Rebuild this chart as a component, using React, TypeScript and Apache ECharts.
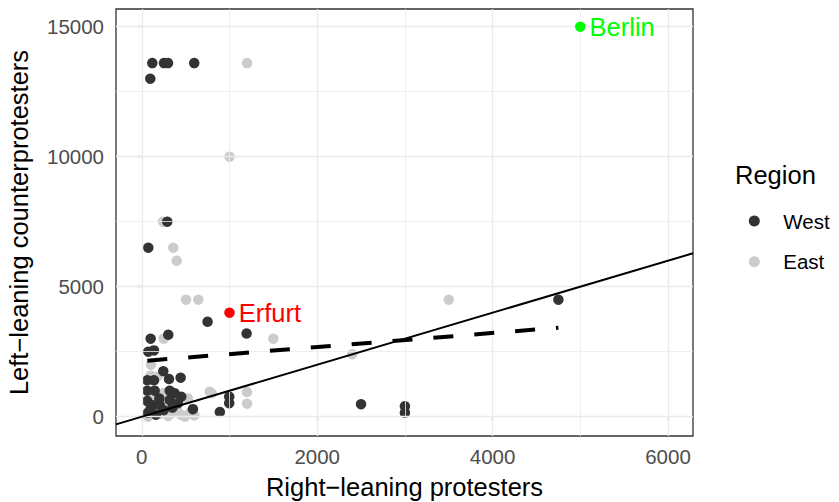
import React, { useEffect, useRef } from "react";
import * as echarts from "echarts";

// ---- data ----
const WEST: number[][] = [
  [120, 13600], [253, 13600], [299, 13600], [598, 13600], [97, 13000],
  [291, 7500], [74, 6500],
  [750, 3650], [101, 3000], [302, 3150], [74, 2500], [139, 2550],
  [245, 1750], [63, 1400], [139, 1400], [310, 1450], [443, 1500],
  [63, 1000], [147, 1000], [318, 1000], [375, 900], [450, 770],
  [63, 600], [116, 450], [204, 450], [318, 640], [412, 520], [583, 290], [890, 180],
  [997, 770], [997, 520], [1195, 3200],
  [2500, 480], [3000, 400], [3000, 150], [4750, 4500],
  [70, 150], [160, 80], [250, 250], [100, 300], [350, 350], [200, 700],
];
const EAST: number[][] = [
  [1200, 13600], [1000, 10000], [242, 7500], [359, 6500], [398, 6000], [504, 4500], [644, 4500],
  [1500, 3000], [2400, 2400], [3500, 4500], [250, 3000], [105, 2000], [101, 1580], [177, 1540],
  [242, 900], [797, 900], [526, 700], [774, 960], [1200, 950], [1200, 500], [492, 0], [71, 0],
  [336, 130], [450, 65], [550, 150], [400, 300], [280, 400], [200, 100], [300, 30], [130, 700],
  [600, 50], [150, 200],
];
const BERLIN: number[] = [5000, 15000];
const ERFURT: number[] = [1000, 4000];

// fitted regression (dashed) and identity reference line (solid)
const FIT_INTERCEPT = 2137;
const FIT_SLOPE = 0.2707;
const REF_INTERCEPT = 0;
const REF_SLOPE = 1;

const X_TICKS = [0, 2000, 4000, 6000];
const X_MINOR = [1000, 3000, 5000];
const Y_TICKS = [0, 5000, 10000, 15000];
const Y_MINOR = [2500, 7500, 12500];

const X_LIM = [-294, 6285];
const Y_LIM = [-742, 15681];

const FONT = "'Liberation Sans', Arial, Helvetica, sans-serif";

export default function App() {
  const ref = useRef<HTMLDivElement>(null);
  useEffect(() => {
    if (!ref.current) return;
    const chart = echarts.init(ref.current, undefined, { renderer: "svg" });

    const allX = [...WEST, ...EAST].map((d) => d[0]);
    const fx0 = Math.min(...allX);
    const fx1 = Math.max(...allX);
    const fitLine = [
      [fx0, FIT_INTERCEPT + FIT_SLOPE * fx0],
      [fx1, FIT_INTERCEPT + FIT_SLOPE * fx1],
    ];
    const refLine = [
      [X_LIM[0], REF_INTERCEPT + REF_SLOPE * X_LIM[0]],
      [X_LIM[1], REF_INTERCEPT + REF_SLOPE * X_LIM[1]],
    ];

    const gridColor = "#ebebeb";
    const gridMarks = [
      ...X_TICKS.map((v) => ({ xAxis: v, lineStyle: { width: 1.3, color: gridColor, type: "solid" } })),
      ...X_MINOR.map((v) => ({ xAxis: v, lineStyle: { width: 0.8, color: gridColor, type: "solid" } })),
      ...Y_TICKS.map((v) => ({ yAxis: v, lineStyle: { width: 1.3, color: gridColor, type: "solid" } })),
      ...Y_MINOR.map((v) => ({ yAxis: v, lineStyle: { width: 0.8, color: gridColor, type: "solid" } })),
    ];

    const tickLabel = { color: "#4d4d4d", fontSize: 20.5, fontFamily: FONT };

    chart.setOption({
      animation: false,
      backgroundColor: "#ffffff",
      textStyle: { fontFamily: FONT },
      grid: {
        left: 116,
        right: 146,
        top: 9,
        bottom: 66,
        containLabel: false,
        outerBoundsMode: "none",
        show: true,
        borderColor: "#333333",
        borderWidth: 1.3,
        backgroundColor: "#ffffff",
        z: 0,
      },
      xAxis: {
        type: "value",
        min: X_LIM[0],
        max: X_LIM[1],
        splitLine: { show: false },
        axisLine: { show: false },
        axisTick: { show: true, length: 4, customValues: X_TICKS, lineStyle: { color: "#333333", width: 1.2 } },
        axisLabel: { ...tickLabel, margin: 10, customValues: X_TICKS, formatter: (v: number) => String(v) },
        name: "Right\u2212leaning protesters",
        nameLocation: "middle",
        nameGap: 38,
        nameTextStyle: { color: "#000000", fontSize: 25.5, fontFamily: FONT },
      },
      yAxis: {
        type: "value",
        min: Y_LIM[0],
        max: Y_LIM[1],
        splitLine: { show: false },
        axisLine: { show: false },
        axisTick: { show: true, length: 4, customValues: Y_TICKS, lineStyle: { color: "#333333", width: 1.2 } },
        axisLabel: { ...tickLabel, margin: 12, customValues: Y_TICKS, formatter: (v: number) => String(v) },
        name: "Left\u2212leaning counterprotesters",
        nameLocation: "middle",
        nameGap: 84,
        nameRotate: 90,
        nameTextStyle: { color: "#000000", fontSize: 25.5, fontFamily: FONT },
      },
      legend: {
        orient: "vertical",
        left: 748.8,
        top: 210,
        padding: 0,
        itemWidth: 11,
        itemHeight: 11,
        itemGap: 18.7,
        icon: "circle",
        data: ["West", "East"],
        textStyle: { fontSize: 20.5, color: "#000000", fontFamily: FONT, lineHeight: 22, padding: [0, 0, 0, 18.5] },
      },
      graphic: [
        {
          type: "text",
          left: 735,
          top: 162,
          style: { text: "Region", fontSize: 25.5, fill: "#000000", fontFamily: FONT },
        },
      ],
      series: [
        {
          name: "grid",
          type: "line",
          data: [],
          silent: true,
          z: 1,
          markLine: {
            silent: true,
            symbol: ["none", "none"],
            label: { show: false },
            animation: false,
            data: gridMarks,
          },
        },
        {
          name: "East",
          type: "scatter",
          data: EAST,
          symbolSize: 10.5,
          itemStyle: { color: "#cccccc", opacity: 1 },
          z: 3,
        },
        {
          name: "West",
          type: "scatter",
          data: WEST,
          symbolSize: 10.5,
          itemStyle: { color: "#333333", opacity: 1 },
          z: 4,
        },
        {
          name: "Berlin",
          type: "scatter",
          data: [BERLIN],
          symbolSize: 10.5,
          itemStyle: { color: "#00ff00", opacity: 1 },
          label: { show: true, position: "right", distance: 4, formatter: "Berlin", color: "#00ff00", fontSize: 25.5, fontFamily: FONT },
          z: 5,
        },
        {
          name: "Erfurt",
          type: "scatter",
          data: [ERFURT],
          symbolSize: 10.5,
          itemStyle: { color: "#ff0000", opacity: 1 },
          label: { show: true, position: "right", distance: 4, formatter: "Erfurt", color: "#ff0000", fontSize: 25.5, fontFamily: FONT },
          z: 5,
        },
        {
          name: "ref",
          type: "line",
          data: refLine,
          symbol: "none",
          silent: true,
          lineStyle: { color: "#000000", width: 2 },
          z: 6,
        },
        {
          name: "fit",
          type: "line",
          data: fitLine,
          symbol: "none",
          silent: true,
          lineStyle: { color: "#000000", width: 4, type: [20, 21] },
          z: 6,
        },
      ],
    });
    return () => chart.dispose();
  }, []);
  return (
    <div
      ref={ref}
      style={{ position: "absolute", left: 0, top: 0, width: 839, height: 502 }}
    />
  );
}
